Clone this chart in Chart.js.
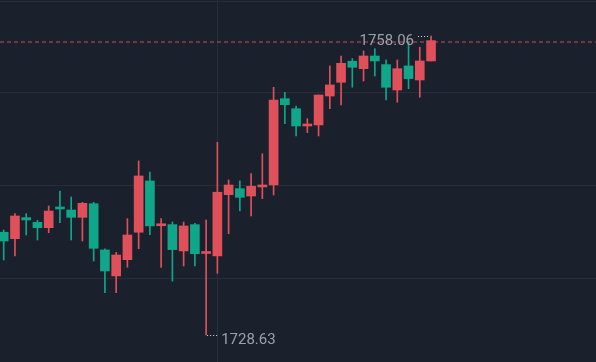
<!DOCTYPE html>
<html>
<head>
<meta charset="utf-8">
<style>
  html, body { margin: 0; padding: 0; background: #1b202d; }
  #wrap { width: 596px; height: 362px; position: relative; }
</style>
<script src="https://cdn.jsdelivr.net/npm/chart.js@4.4.0/dist/chart.umd.min.js"></script>
</head>
<body>
<div id="wrap"><canvas id="chart"></canvas></div>
<script>
// OHLC per candle (left to right)
const opens = [1738.74, 1738.11, 1740.18, 1739.72, 1739.19, 1741.16, 1740.93, 1740.21, 1741.55, 1737.00,
  1734.44, 1736.04, 1738.74, 1743.79, 1739.38, 1739.49, 1736.90, 1739.49, 1736.65, 1736.41,
  1742.44, 1743.03, 1742.31, 1743.20, 1743.39, 1751.89, 1750.90, 1749.20, 1749.30, 1752.15,
  1753.50, 1755.57, 1754.84, 1756.09, 1755.24, 1752.74, 1755.11, 1753.73, 1755.60];
const highs = [1738.96, 1740.57, 1740.57, 1739.92, 1741.33, 1742.80, 1742.21, 1741.69, 1741.69, 1737.12,
  1736.77, 1740.08, 1745.76, 1744.67, 1740.08, 1739.75, 1739.75, 1739.62, 1739.95, 1747.60,
  1743.89, 1743.79, 1744.51, 1746.47, 1753.01, 1752.52, 1751.17, 1749.92, 1752.25, 1755.11,
  1756.09, 1755.83, 1756.58, 1756.81, 1755.70, 1755.70, 1757.47, 1756.95, 1758.06];
const lows = [1736.01, 1736.41, 1738.47, 1737.98, 1738.70, 1739.68, 1737.98, 1737.88, 1735.91, 1732.79,
  1732.79, 1735.29, 1737.12, 1738.50, 1735.29, 1733.94, 1735.42, 1735.42, 1728.63, 1734.70,
  1738.60, 1740.83, 1740.34, 1742.05, 1742.41, 1749.43, 1748.22, 1748.54, 1748.22, 1750.90,
  1751.27, 1753.01, 1753.63, 1754.12, 1751.76, 1751.53, 1752.87, 1752.03, 1755.60];
const closes = [1737.88, 1740.34, 1739.95, 1739.19, 1740.83, 1741.03, 1740.21, 1741.59, 1737.16, 1734.93,
  1736.50, 1738.47, 1744.28, 1739.36, 1739.43, 1737.03, 1739.36, 1736.63, 1736.70, 1742.68,
  1743.39, 1742.18, 1743.27, 1743.30, 1751.76, 1751.30, 1749.20, 1749.27, 1752.25, 1753.24,
  1755.37, 1754.98, 1756.09, 1755.60, 1753.01, 1754.84, 1753.86, 1755.60, 1757.60];

// horizontal grid levels and the one vertical grid line (candle index)
const gridLevels = [1761.5, 1752.45, 1743.3, 1734.14];
const vLineIndex = 19;

const UP = '#e0505b';
const DOWN = '#0fa68a';
const GRID = '#272d3b';
const TEXT = '#9ba0ab';

const idx = opens.map((_, i) => i);
const colors = idx.map((i) => (closes[i] >= opens[i] ? UP : DOWN));

// min / max markers with dotted leaders + dashed last price line
const markers = {
  id: 'markers',
  beforeDatasetsDraw(chart) {
    const {ctx, chartArea, scales} = chart;
    const last = closes[closes.length - 1];
    const y = Math.round(scales.y.getPixelForValue(last)) + 1;
    ctx.save();
    ctx.strokeStyle = 'rgba(224, 80, 91, 0.45)';
    ctx.lineWidth = 2;
    ctx.setLineDash([4, 3]);
    ctx.beginPath();
    ctx.moveTo(chartArea.left, y);
    ctx.lineTo(chartArea.right, y);
    ctx.stroke();
    ctx.restore();
  },
  afterDatasetsDraw(chart) {
    const {ctx, scales} = chart;
    const hi = Math.max(...highs);
    const lo = Math.min(...lows);
    const hiX = scales.x.getPixelForValue(highs.indexOf(hi));
    const hiY = scales.y.getPixelForValue(hi);
    const loX = scales.x.getPixelForValue(lows.indexOf(lo));
    const loY = scales.y.getPixelForValue(lo);

    ctx.save();
    ctx.strokeStyle = '#d6d8de';
    ctx.lineWidth = 1;
    ctx.setLineDash([1, 2]);
    ctx.beginPath();
    ctx.moveTo(hiX - 3, Math.round(hiY) + 0.5);
    ctx.lineTo(hiX - 15, Math.round(hiY) + 0.5);
    ctx.moveTo(loX + 1, Math.round(loY) + 0.5);
    ctx.lineTo(loX + 13, Math.round(loY) + 0.5);
    ctx.stroke();

    ctx.setLineDash([]);
    ctx.fillStyle = TEXT;
    ctx.font = '15px Roboto';
    ctx.textBaseline = 'middle';
    ctx.textAlign = 'right';
    ctx.fillText(hi.toFixed(2), hiX - 17, hiY + 5);
    ctx.textAlign = 'left';
    ctx.fillText(lo.toFixed(2), loX + 15, loY + 5);
    ctx.restore();
  },
};

new Chart(document.getElementById('chart'), {
  type: 'bar',
  data: {
    datasets: [
      {
        label: 'body',
        data: idx.map((i) => ({x: i, y: [opens[i], closes[i]]})),
        backgroundColor: colors,
        barThickness: 9,
        minBarLength: 2,
        grouped: false,
      },
      {
        label: 'wick',
        data: idx.map((i) => ({x: i, y: [lows[i], highs[i]]})),
        backgroundColor: colors,
        barThickness: 1,
        grouped: false,
      },
    ],
  },
  options: {
    responsive: true,
    maintainAspectRatio: false,
    animation: false,
    layout: {padding: 0},
    plugins: {legend: {display: false}, tooltip: {enabled: false}},
    scales: {
      x: {
        type: 'linear',
        min: -0.33,
        max: 52.67,
        offset: false,
        ticks: {display: false},
        border: {display: false},
        grid: {color: GRID, drawTicks: false, offset: false},
        afterBuildTicks: (s) => {
          s.ticks = [{value: vLineIndex}];
        },
      },
      y: {
        min: 1725.97,
        max: 1761.6,
        ticks: {display: false},
        border: {display: false},
        grid: {color: GRID, drawTicks: false},
        afterBuildTicks: (s) => {
          s.ticks = gridLevels.map((v) => ({value: v}));
        },
      },
    },
  },
  plugins: [markers],
});
</script>
</body>
</html>
